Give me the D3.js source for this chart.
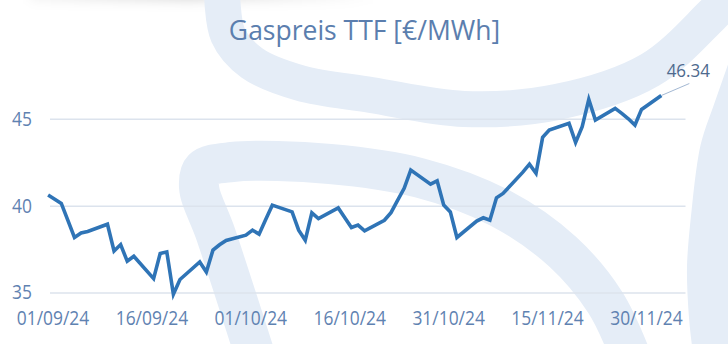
<!DOCTYPE html>
<html>
<head>
<meta charset="utf-8">
<script src="https://cdn.jsdelivr.net/npm/d3@7"></script>
<style>
  html, body { margin: 0; padding: 0; background: #fff; }
  svg { display: block; font-family: "Open Sans", sans-serif; }
</style>
</head>
<body>
<div id="chart"></div>
<script>
// ---- data ----
const dates = [
  "2024-08-31", "2024-09-02", "2024-09-03", "2024-09-04", "2024-09-05", "2024-09-06",
  "2024-09-09", "2024-09-10", "2024-09-11", "2024-09-12", "2024-09-13",
  "2024-09-16", "2024-09-17", "2024-09-18", "2024-09-19", "2024-09-20",
  "2024-09-23", "2024-09-24", "2024-09-25", "2024-09-26", "2024-09-27",
  "2024-09-30", "2024-10-01", "2024-10-02", "2024-10-03", "2024-10-04",
  "2024-10-07", "2024-10-08", "2024-10-09", "2024-10-10", "2024-10-11",
  "2024-10-14", "2024-10-15", "2024-10-16", "2024-10-17", "2024-10-18",
  "2024-10-21", "2024-10-22", "2024-10-23", "2024-10-24", "2024-10-25",
  "2024-10-28", "2024-10-29", "2024-10-30", "2024-10-31", "2024-11-01",
  "2024-11-04", "2024-11-05", "2024-11-06", "2024-11-07", "2024-11-08",
  "2024-11-11", "2024-11-12", "2024-11-13", "2024-11-14", "2024-11-15",
  "2024-11-18", "2024-11-19", "2024-11-20", "2024-11-21", "2024-11-22",
  "2024-11-25", "2024-11-26", "2024-11-27", "2024-11-28", "2024-11-29",
  "2024-12-02"
];
const prices = [
  40.61, 40.13, 39.15, 38.17, 38.43, 38.51,
  38.93, 37.39, 37.76, 36.80, 37.09,
  35.80, 37.25, 37.34, 34.90, 35.75,
  36.76, 36.18, 37.44, 37.75, 38.00,
  38.30, 38.59, 38.36, 39.20, 40.03,
  39.64, 38.59, 38.01, 39.59, 39.26,
  39.87, 39.30, 38.74, 38.88, 38.55,
  39.16, 39.60, 40.30, 41.00, 42.05,
  41.24, 41.43, 40.03, 39.64, 38.17,
  39.11, 39.30, 39.16, 40.45, 40.70,
  41.93, 42.39, 41.86, 43.93, 44.35,
  44.74, 43.64, 44.54, 46.12, 44.93,
  45.60, 45.31, 45.00, 44.64, 45.54,
  46.34
];
const xTicks = ["2024-09-01", "2024-09-16", "2024-10-01", "2024-10-16", "2024-10-31", "2024-11-15", "2024-11-30"];
const yTicks = [35, 40, 45];
const title = "Gaspreis TTF [€/MWh]";

// ---- layout ----
const W = 728, H = 344;
const SQUEEZE = 0.87;          // axis text in the reference is horizontally condensed
const BG = "#e5edf7";
const TEXT = "#5f82b1";

const parseDay = d3.timeParse("%Y-%m-%d");
const parseStamp = d3.timeParse("%Y-%m-%dT%H");
const series = dates.map((d, i) => ({date: parseStamp(d + "T08"), value: prices[i]}));

const x = d3.scaleTime()
  .domain([parseDay("2024-09-01"), parseDay("2024-12-06")])
  .range([52.5, 685.5]);
const y = d3.scaleLinear().domain([35, 45]).range([292.5, 118.8]);

const svg = d3.select("#chart").append("svg").attr("width", W).attr("height", H);
const defs = svg.append("defs");

// ---- background decoration (logo watermark + shadow) ----
const blur = defs.append("filter").attr("id", "blur").attr("x", "-20%").attr("y", "-200%")
  .attr("width", "140%").attr("height", "500%");
blur.append("feGaussianBlur").attr("stdDeviation", 6);
const shade = defs.append("linearGradient").attr("id", "shade");
shade.append("stop").attr("offset", "0").attr("stop-color", "#000").attr("stop-opacity", 0.05);
shade.append("stop").attr("offset", "0.45").attr("stop-color", "#000").attr("stop-opacity", 0.16);
shade.append("stop").attr("offset", "1").attr("stop-color", "#000").attr("stop-opacity", 0);
svg.append("rect").attr("x", 30).attr("y", -24).attr("width", 350).attr("height", 24)
  .attr("fill", "url(#shade)").attr("filter", "url(#blur)");

const band = d3.line().curve(d3.curveCatmullRom.alpha(0.5));
const bg = svg.append("g").attr("fill", "none").attr("stroke", BG);
bg.append("path").attr("stroke-width", 36).attr("d", band([
  [222, -10], [228, 35], [252, 63], [300, 83], [371, 95], [464, 109], [557, 102], [650, 70], [712, 15], [740, -15]
]));
bg.append("path").attr("stroke-width", 40).attr("d", band([
  [254, 352], [216, 235], [199, 187], [203, 169], [232, 162], [330, 164], [420, 178], [500, 208], [563, 252], [605, 302], [629, 352]
]));
bg.append("path").attr("stroke-width", 44).attr("d", band([
  [760, 40], [735, 111], [722, 150], [713, 217], [709, 267], [711, 317], [715, 352]
]));

// ---- grid + y labels ----
const yAxis = svg.append("g")
  .attr("transform", "translate(50,0)")
  .call(d3.axisLeft(y).tickValues(yTicks).tickSize(-635.5).tickPadding(18).tickFormat(d3.format("d")));
yAxis.select(".domain").remove();
yAxis.selectAll(".tick line").attr("stroke", "#dce3ed").attr("stroke-width", 1.5);
yAxis.selectAll(".tick text")
  .attr("fill", TEXT).style("font-size", "20px").style("font-family", "'Open Sans', sans-serif")
  .attr("transform", `translate(-18,0) scale(${SQUEEZE},1)`).attr("x", 0);

// ---- x labels ----
const xAxis = svg.append("g")
  .attr("transform", "translate(0,325)")
  .call(d3.axisBottom(x).tickValues(xTicks.map(parseDay)).tickSize(0).tickPadding(0)
    .tickFormat(d3.timeFormat("%d/%m/%y")));
xAxis.select(".domain").remove();
xAxis.selectAll(".tick text")
  .attr("fill", TEXT).attr("y", 0).attr("dy", 0)
  .style("font-size", "20px").style("font-family", "'Open Sans', sans-serif")
  .attr("transform", `scale(${SQUEEZE},1)`);

// ---- title ----
svg.append("text")
  .attr("x", 364.5).attr("y", 39.5)
  .attr("text-anchor", "middle")
  .attr("fill", "#5b7eae")
  .style("font-size", "26.5px")
  .text(title);

// ---- price line ----
svg.append("path")
  .datum(series)
  .attr("fill", "none")
  .attr("stroke", "#2f74b6")
  .attr("stroke-width", 3.6)
  .attr("stroke-linejoin", "miter")
  .attr("d", d3.line().x(d => x(d.date)).y(d => y(d.value)));

// ---- last value label ----
const last = series[series.length - 1];
const lx = x(last.date), ly = y(last.value);
svg.append("line")
  .attr("x1", lx).attr("y1", ly).attr("x2", lx + 28).attr("y2", ly - 12)
  .attr("stroke", "#a3b8d3").attr("stroke-width", 1);
svg.append("text")
  .attr("transform", `translate(${lx + 27},${ly - 18.5}) scale(0.92,1)`)
  .attr("text-anchor", "middle")
  .attr("fill", "#4e6a8e")
  .style("font-size", "18.5px")
  .text(d3.format(".2f")(last.value));
</script>
</body>
</html>
